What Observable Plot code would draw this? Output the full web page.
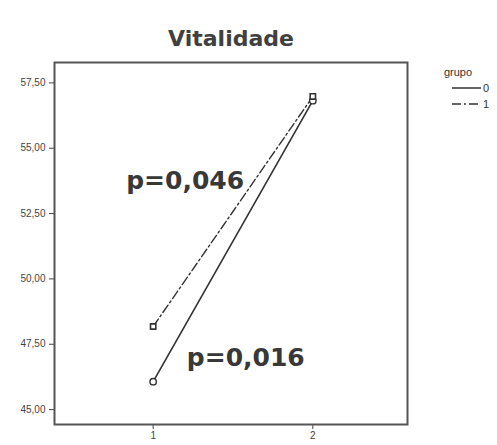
<!DOCTYPE html>
<html>
<head>
<meta charset="utf-8">
<script src="https://cdn.jsdelivr.net/npm/d3@7"></script>
<script src="https://cdn.jsdelivr.net/npm/@observablehq/plot@0.6"></script>
<style>
  body { margin: 0; background: #fff; }
  svg { font-family: "Liberation Sans", Arial, sans-serif; }
</style>
</head>
<body>
<div id="chart"></div>
<script>
const times = [1, 2];
const grupo0 = [46.07, 56.82];
const grupo1 = [48.18, 56.98];
const groups = ["0", "1"];
const yTicks = [45, 47.5, 50, 52.5, 55, 57.5];
const title = "Vitalidade";
const pLabels = [
  {text: "p=0,046", x: 1.2, y: 53.75},
  {text: "p=0,016", x: 1.58, y: 46.99}
];

const rows = [
  ...times.map((t, i) => ({time: t, value: grupo0[i], grupo: groups[0]})),
  ...times.map((t, i) => ({time: t, value: grupo1[i], grupo: groups[1]}))
];
const g0 = rows.filter(d => d.grupo === "0");
const g1 = rows.filter(d => d.grupo === "1");

const ink = "#333";
const chart = Plot.plot({
  width: 497,
  height: 445,
  marginLeft: 54,
  marginRight: 90,
  marginTop: 62,
  marginBottom: 21,
  style: {fontSize: "10px", color: "#444", background: "#fff"},
  x: {domain: [0.382, 2.593], ticks: times, tickFormat: d => String(d), tickSize: 5, tickPadding: 2, label: null},
  y: {domain: [44.43, 58.28], ticks: yTicks, tickFormat: d => d.toFixed(2).replace(".", ","), tickSize: 5, tickPadding: 4, label: null},
  marks: [
    Plot.frame({stroke: "#555", strokeWidth: 2}),
    Plot.line(g0, {x: "time", y: "value", stroke: ink, strokeWidth: 1.6}),
    Plot.line(g1, {x: "time", y: "value", stroke: ink, strokeWidth: 1.4, strokeDasharray: "9,3,2,3"}),
    Plot.dot(g0, {x: "time", y: "value", r: 3.2, stroke: ink, strokeWidth: 1.4, fill: "white"}),
    Plot.dot(g1, {x: "time", y: "value", symbol: "square", r: 3, stroke: ink, strokeWidth: 1.6, fill: "white"}),
    Plot.text(pLabels, {x: "x", y: "y", text: "text", fontSize: 25, fontWeight: 600, fill: "#383838",
      fontFamily: "'DejaVu Sans', sans-serif"}),
    Plot.text([title], {frameAnchor: "top", dy: -32, text: d => d, fontSize: 22, fontWeight: 600, fill: "#404040",
      fontFamily: "'DejaVu Sans', sans-serif"})
  ]
});

// legend
const svg = d3.select(chart);
const lg = svg.append("g").attr("font-family", "'Liberation Sans', Arial, sans-serif");
lg.append("text").attr("x", 458).attr("y", 76).attr("font-size", 11).attr("fill", "#333").text("grupo");
const leg = [{g: groups[0], dash: null, y: 88}, {g: groups[1], dash: "9,3,2,3", y: 104}];
leg.forEach(l => {
  lg.append("line").attr("x1", 452).attr("x2", 481).attr("y1", l.y).attr("y2", l.y)
    .attr("stroke", ink).attr("stroke-width", 1.5).attr("stroke-dasharray", l.dash);
  lg.append("text").attr("x", 486).attr("y", l.y + 4).attr("font-size", 11).attr("fill", "#333").text(l.g);
});

document.getElementById("chart").appendChild(chart);
</script>
</body>
</html>
